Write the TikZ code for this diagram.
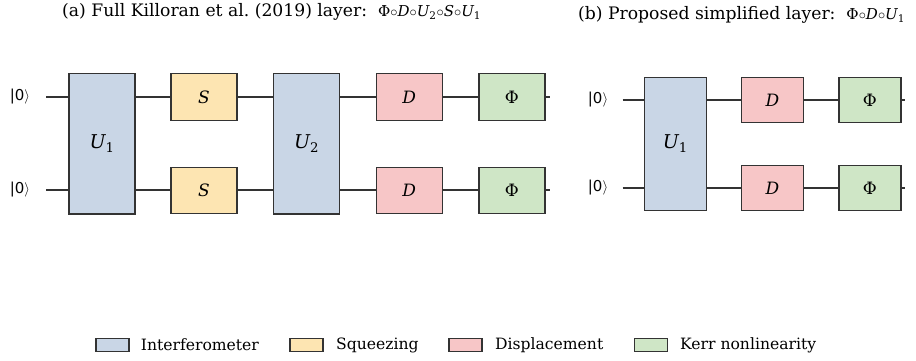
\documentclass[tikz,border=0pt]{standalone}
\usepackage{amsmath}
\usepackage{fontspec}
\setmainfont{DejaVu Serif}
\newfontfamily\ketfont{DejaVu Sans}
\definecolor{interfcol}{HTML}{C9D6E6}
\definecolor{squeezcol}{HTML}{FDE5B2}
\definecolor{displcol}{HTML}{F7C6C7}
\definecolor{kerrcol}{HTML}{CFE6C6}
\definecolor{edgecol}{HTML}{333333}
\newcommand{\gU}[1]{$\textit{U}_{\text{#1}}$}
\newcommand{\ket}{{\ketfont |0}$\rangle$}

\begin{document}
\begin{tikzpicture}[x=1pt,y=-1pt,
  wire/.style={edgecol,line width=1.4pt},
  gate/.style={draw=edgecol,line width=1.4pt,inner sep=0pt,font=\fontsize{17}{17}\selectfont},
  big/.style={gate,minimum width=66pt,minimum height=140.5pt,fill=interfcol,font=\fontsize{19}{19}\selectfont},
  small/.style={gate,minimum width=66pt,minimum height=46.5pt},
  bigb/.style={gate,minimum width=62pt,minimum height=133.4pt,fill=interfcol,font=\fontsize{19}{19}\selectfont},
  smallb/.style={gate,minimum width=62pt,minimum height=44.5pt},
  ketlab/.style={font=\fontsize{15}{15}\selectfont,inner sep=0pt},
  swatch/.style={draw=edgecol,line width=1.4pt,minimum width=33pt,minimum height=13pt,inner sep=0pt},
  legtext/.style={anchor=west,inner sep=0pt,font=\fontsize{15.6}{16}\selectfont},
  ttl/.style={anchor=west,inner sep=0pt,font=\fontsize{17.2}{18}\selectfont}]
\useasboundingbox (0,0) rectangle (916,360);

\node[ttl] (ttla) at (62,12)
  {(a) Full Killoran et al.\ (2019) layer:\ \ {\fontsize{15}{15}\selectfont
   Φ$\circ$\textit{D}$\circ$\gU{2}$\circ$\textit{S}$\circ$\gU{1}}};
\node[ttl] (ttlb) at (578,15)
  {(b) Proposed simplified layer:\ \ {\fontsize{15}{15}\selectfont
   Φ$\circ$\textit{D}$\circ$\gU{1}}};

% circuit (a)
\node[ketlab] (ka1) at (20,97) {\ket};
\node[ketlab] (ka2) at (20,190) {\ket};
\coordinate (sa1) at (46,97);
\coordinate (sa2) at (46,190);
\node[big] (ua1) at (102,143.8) {\gU{1}};
\node[small,fill=squeezcol] (sq1) at (204,97) {\textit{S}};
\node[small,fill=squeezcol] (sq2) at (204,190.5) {\textit{S}};
\node[big] (ua2) at (306.5,143.8) {\gU{2}};
\node[small,fill=displcol] (da1) at (409.3,97) {\textit{D}};
\node[small,fill=displcol] (da2) at (409.3,190.5) {\textit{D}};
\node[small,fill=kerrcol] (pa1) at (511.8,97) {Φ};
\node[small,fill=kerrcol] (pa2) at (511.8,190.5) {Φ};
\coordinate (ea1) at (549.5,97);
\coordinate (ea2) at (549.5,190);
\foreach \w in {1,2}{
  \draw[wire] (sa\w) -- (sa\w -| ua1.west);
  \draw[wire] (sa\w -| ua1.east) -- (sa\w -| sq\w.west);
  \draw[wire] (sa\w -| sq\w.east) -- (sa\w -| ua2.west);
  \draw[wire] (sa\w -| ua2.east) -- (sa\w -| da\w.west);
  \draw[wire] (sa\w -| da\w.east) -- (sa\w -| pa\w.west);
  \draw[wire] (sa\w -| pa\w.east) -- (ea\w);
}

% circuit (b)
\node[ketlab] (kb1) at (598,100) {\ket};
\node[ketlab] (kb2) at (598,188) {\ket};
\coordinate (sb1) at (622.7,100);
\coordinate (sb2) at (622.7,188);
\node[bigb] (ub1) at (675.3,144) {\gU{1}};
\node[smallb,fill=displcol] (db1) at (772.5,100) {\textit{D}};
\node[smallb,fill=displcol] (db2) at (772.5,188) {\textit{D}};
\node[smallb,fill=kerrcol] (pb1) at (869.9,100) {Φ};
\node[smallb,fill=kerrcol] (pb2) at (869.9,188) {Φ};
\coordinate (eb1) at (905,100);
\coordinate (eb2) at (905,188);
\foreach \w in {1,2}{
  \draw[wire] (sb\w) -- (sb\w -| ub1.west);
  \draw[wire] (sb\w -| ub1.east) -- (db\w);
  \draw[wire] (db\w) -- (pb\w);
  \draw[wire] (pb\w) -- (eb\w);
}

% legend
\foreach \sx/\tx/\col/\lab/\nm in {112.4/140.7/interfcol/Interferometer/li,
    306.5/336/squeezcol/Squeezing/ls,
    465.5/495/displcol/Displacement/ld,
    651.2/680/kerrcol/Kerr nonlinearity/lk}{
  \node[swatch,fill=\col] (\nm box) at (\sx,344.7) {};
  \node[legtext] (\nm txt) at (\tx,345) {\lab};
}
\end{tikzpicture}
\end{document}
